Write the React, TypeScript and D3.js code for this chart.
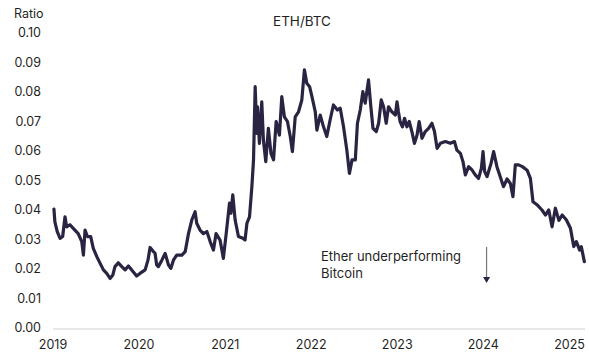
import React from "react";
import * as d3 from "d3";

const dates: string[] = [
  "2019-01-05","2019-01-09","2019-01-19","2019-01-31","2019-02-11","2019-02-21","2019-02-28","2019-03-14","2019-03-28","2019-04-18",
  "2019-05-03","2019-05-10","2019-05-17","2019-05-27","2019-06-10","2019-06-21","2019-07-06","2019-07-20","2019-08-03","2019-08-17",
  "2019-08-31","2019-09-12","2019-09-21","2019-10-05","2019-10-20","2019-11-03","2019-11-17","2019-12-01","2019-12-22","2020-01-05",
  "2020-01-27","2020-02-08","2020-02-17","2020-03-02","2020-03-09","2020-03-16","2020-03-23","2020-04-07","2020-04-21","2020-05-05",
  "2020-05-15","2020-05-26","2020-06-09","2020-07-01","2020-07-15","2020-07-29","2020-08-12","2020-08-26","2020-09-02","2020-09-16",
  "2020-09-30","2020-10-15","2020-10-29","2020-11-12","2020-11-23","2020-12-10","2020-12-24","2021-01-05","2021-01-19","2021-01-25",
  "2021-02-02","2021-02-12","2021-02-26","2021-03-17","2021-03-26","2021-04-03","2021-04-14","2021-04-24","2021-05-01","2021-05-08",
  "2021-05-15","2021-05-18","2021-05-26","2021-06-05","2021-06-12","2021-06-22","2021-07-03","2021-07-14","2021-07-25","2021-08-05",
  "2021-08-19","2021-08-29","2021-09-09","2021-09-22","2021-10-04","2021-10-13","2021-10-25","2021-11-08","2021-11-22","2021-12-03",
  "2021-12-13","2021-12-25","2022-01-04","2022-01-18","2022-01-25","2022-02-08","2022-02-22","2022-03-08","2022-03-22","2022-04-05",
  "2022-04-22","2022-05-04","2022-05-18","2022-06-01","2022-06-12","2022-06-23","2022-07-07","2022-07-16","2022-07-28","2022-08-08",
  "2022-08-18","2022-09-01","2022-09-11","2022-09-20","2022-10-04","2022-10-14","2022-10-25","2022-11-04","2022-11-15","2022-11-25",
  "2022-12-09","2022-12-24","2022-12-31","2023-01-06","2023-01-13","2023-01-23","2023-02-01","2023-02-11","2023-02-21","2023-03-04",
  "2023-03-15","2023-03-26","2023-04-04","2023-04-16","2023-04-30","2023-05-14","2023-05-28","2023-06-08","2023-06-19","2023-07-03",
  "2023-07-24","2023-08-14","2023-09-01","2023-09-11","2023-09-26","2023-10-07","2023-10-17","2023-10-31","2023-11-14","2023-11-28",
  "2023-12-12","2023-12-24","2023-12-31","2024-01-07","2024-01-17",
  "2024-02-03","2024-02-14","2024-02-28","2024-03-13","2024-03-27","2024-04-11","2024-04-25","2024-05-06","2024-05-16","2024-05-30",
  "2024-06-15","2024-07-05","2024-07-19","2024-07-30","2024-08-16","2024-09-06","2024-09-21","2024-10-05","2024-10-19","2024-11-02",
  "2024-11-17","2024-12-01","2024-12-19","2025-01-05","2025-01-19","2025-01-30","2025-02-13","2025-02-20","2025-03-05"
];

const ratios: number[] = [
  0.0403,0.036,0.0327,0.0304,0.031,0.0377,0.0343,0.035,0.0338,0.032,
  0.0293,0.0247,0.0332,0.031,0.031,0.027,0.0242,0.0219,0.0197,0.0185,
  0.0168,0.018,0.0208,0.0221,0.0208,0.0197,0.021,0.0197,0.0176,0.0185,
  0.0197,0.023,0.0273,0.0259,0.0254,0.0214,0.0208,0.023,0.0253,0.0214,
  0.0202,0.023,0.0247,0.0247,0.0259,0.032,0.0366,0.0394,0.0355,0.0332,
  0.032,0.0327,0.0293,0.0264,0.032,0.0298,0.0236,0.032,0.0423,0.0389,
  0.0451,0.0366,0.031,0.0304,0.0298,0.0355,0.0377,0.0479,0.057,0.0818,
  0.066,0.075,0.0626,0.0767,0.0637,0.0564,0.0677,0.0592,0.057,0.07,
  0.0654,0.0784,0.0716,0.07,0.0649,0.0598,0.0716,0.0733,0.0773,0.0875,
  0.083,0.0818,0.0784,0.0733,0.0671,0.0722,0.0682,0.0649,0.0705,0.0756,
  0.0739,0.0745,0.0682,0.0603,0.0524,0.057,0.057,0.0694,0.0739,0.0801,
  0.0762,0.0841,0.075,0.0677,0.0666,0.0694,0.0773,0.075,0.0694,0.075,
  0.0733,0.0722,0.0767,0.0733,0.07,0.0682,0.0711,0.0682,0.07,0.0666,
  0.0626,0.0654,0.07,0.0643,0.0666,0.0677,0.0694,0.0666,0.0609,0.0626,
  0.0632,0.0626,0.0632,0.0603,0.0592,0.0564,0.0519,0.0547,0.0536,0.0519,
  0.0507,0.0541,0.0598,0.053,0.0513,
  0.0558,0.0598,0.0547,0.0513,0.0479,0.0505,0.049,0.0445,0.0553,0.0553,
  0.0547,0.0535,0.0507,0.0428,0.0418,0.04,0.0383,0.04,0.0343,0.0406,
  0.0365,0.0383,0.0366,0.0338,0.0276,0.0293,0.0264,0.0276,0.0225
];

const yTicks: number[] = [0, 0.01, 0.02, 0.03, 0.04, 0.05, 0.06, 0.07, 0.08, 0.09, 0.1];
const xTickYears: number[] = [2019, 2020, 2021, 2022, 2023, 2024, 2025];

const W = 589;
const H = 357;
const FONT = "Inter, 'Noto Sans', sans-serif";
const TEXT = "#1f1f24";
const LINE = "#2a2342";

export default function App() {
  const parse = d3.timeParse("%Y-%m-%d");
  const data = dates.map((d, i) => ({ date: parse(d) as Date, v: ratios[i] }));

  const x = d3
    .scaleTime()
    .domain([new Date(2019, 0, 1), new Date(2025, 0, 1)])
    .range([53, 569.5]);
  const y = d3.scaleLinear().domain([0, 0.1]).range([328, 33]);

  const line = d3
    .line<{ date: Date; v: number }>()
    .x((d) => x(d.date))
    .y((d) => y(d.v))
    .curve(d3.curveLinear);

  const arrowX = x(new Date(2024, 0, 15));

  return (
    <svg
      width={W}
      height={H}
      style={{ position: "fixed", left: 0, top: 0, background: "#fff" }}
      fontFamily={FONT}
    >
      <rect x={0} y={0} width={W} height={H} fill="#fff" />
      <text x={14} y={18} fontSize={12.5} fill={TEXT}>
        Ratio
      </text>
      <text x={302} y={26} fontSize={13.5} fill={TEXT} textAnchor="middle">
        ETH/BTC
      </text>
      {yTicks.map((t) => (
        <text
          key={t}
          x={41}
          y={y(t)}
          dy="0.35em"
          fontSize={12.5}
          fill={TEXT}
          textAnchor="end"
        >
          {t.toFixed(2)}
        </text>
      ))}
      <line x1={53} x2={585} y1={y(0) + 1} y2={y(0) + 1} stroke="#d0d0d0" strokeWidth={1.2} />
      {xTickYears.map((yr) => (
        <text
          key={yr}
          x={x(new Date(yr, 0, 1))}
          y={349}
          fontSize={12.5}
          fill={TEXT}
          textAnchor="middle"
        >
          {yr}
        </text>
      ))}
      <path
        d={line(data) || ""}
        fill="none"
        stroke={LINE}
        strokeWidth={3.2}
        strokeLinejoin="round"
        strokeLinecap="round"
      />
      <text x={321} y={261} fontSize={13} fill={TEXT}>
        Ether underperforming
      </text>
      <text x={321} y={277.5} fontSize={13} fill={TEXT}>
        Bitcoin
      </text>
      <line x1={arrowX} x2={arrowX} y1={247} y2={277} stroke="#777" strokeWidth={1.2} />
      <path
        d={`M${arrowX - 3.5},${277} L${arrowX + 3.5},${277} L${arrowX},${283} Z`}
        fill={LINE}
      />
    </svg>
  );
}
